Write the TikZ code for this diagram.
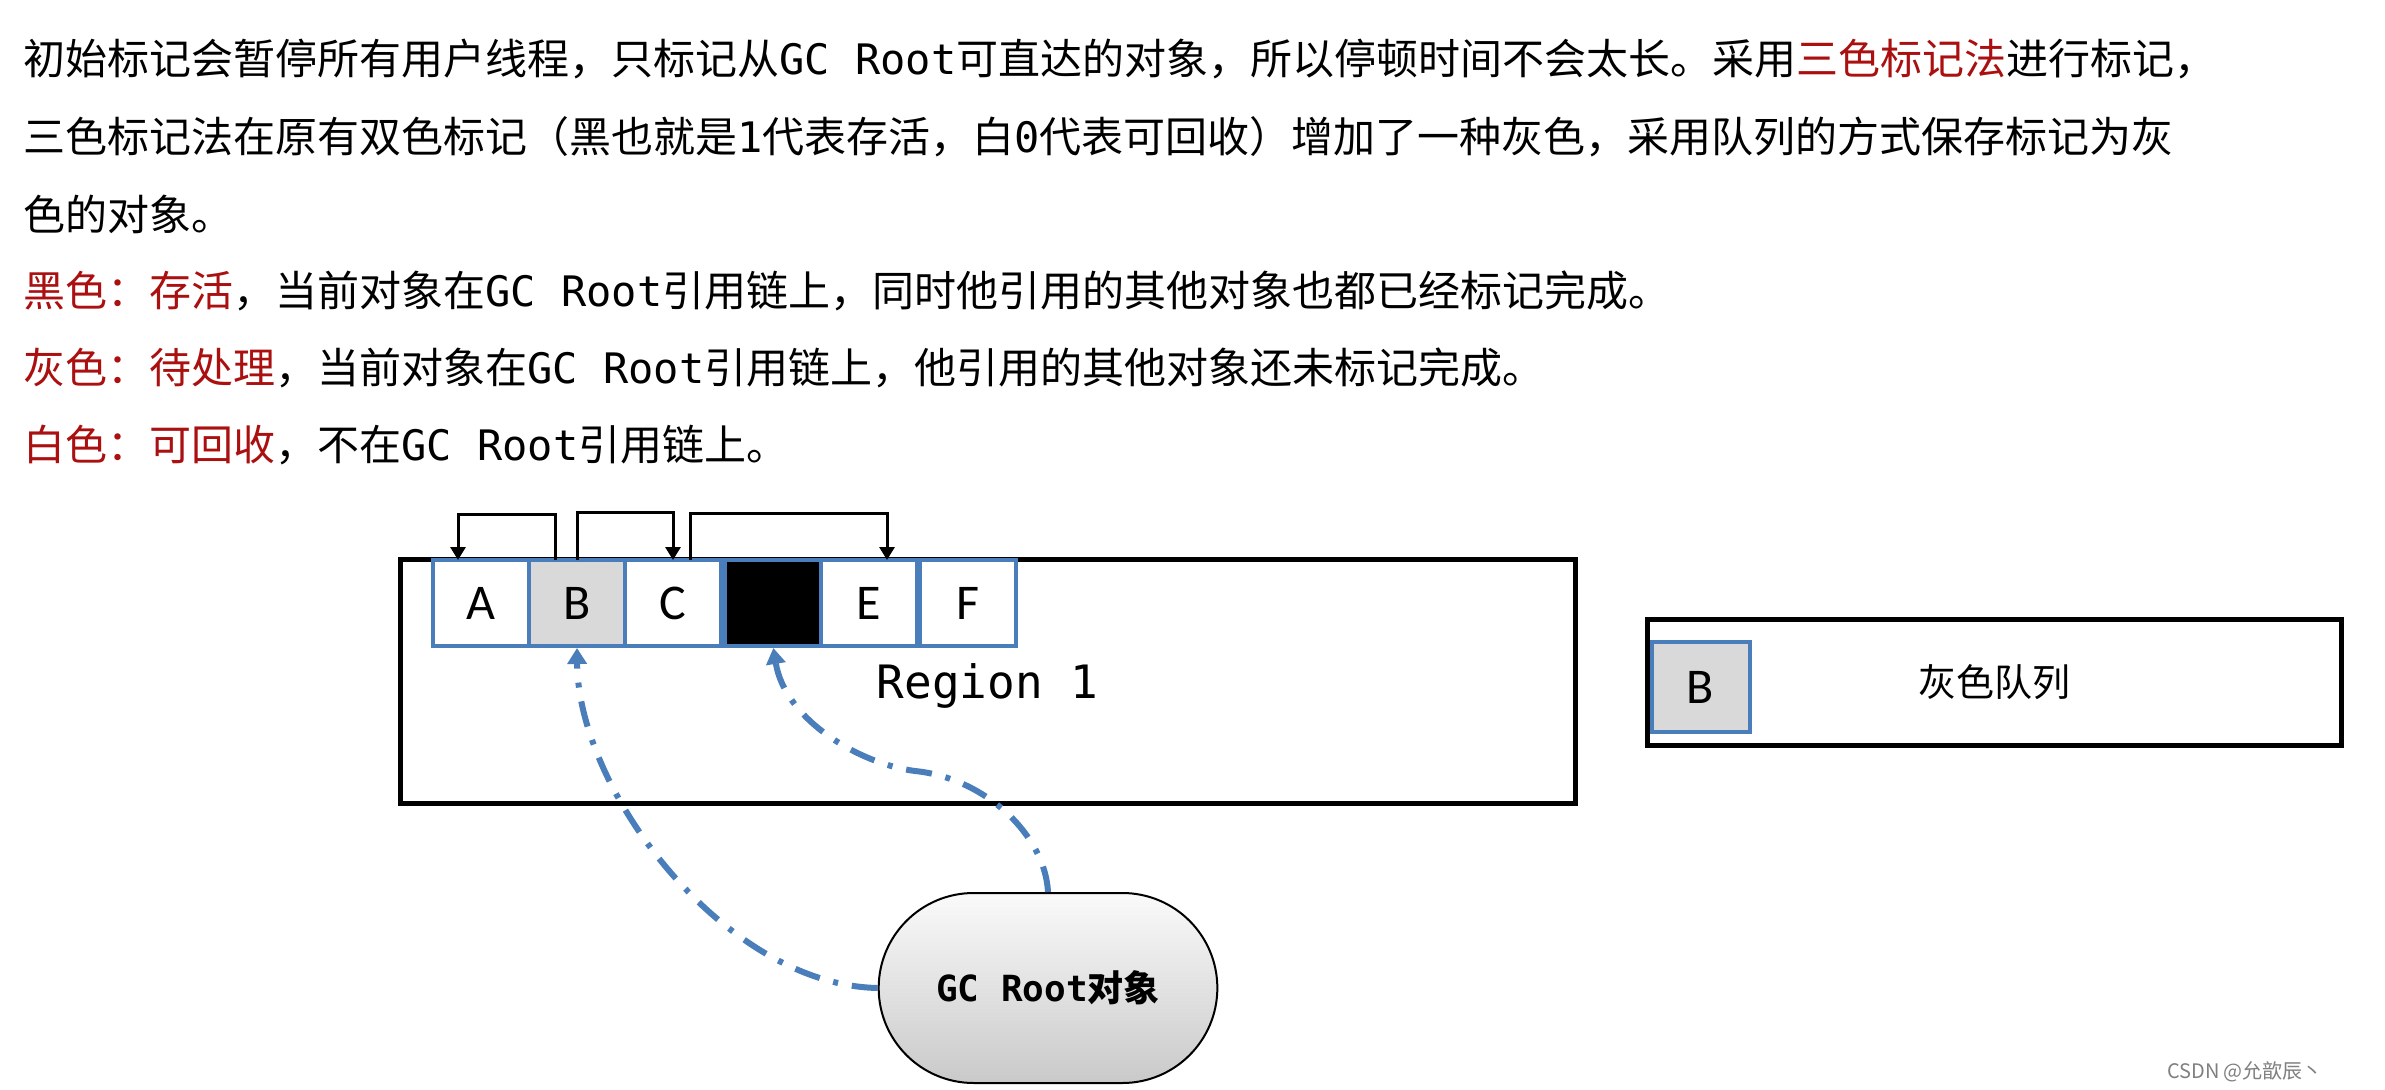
\documentclass[tikz,border=0pt]{standalone}
\usepackage{fontspec}
\setmainfont{Noto Sans CJK SC}
\newfontfamily\monofont{DejaVu Sans Mono}
\newfontfamily\cellfont{Carlito}
\usepackage{xcolor}
\usepackage{tikz}
\usetikzlibrary{positioning}
\usetikzlibrary{arrows.meta}
\usetikzlibrary{shapes.misc}

\definecolor{cellblue}{RGB}{74,126,187}
\definecolor{notered}{RGB}{170,16,16}
\definecolor{greycell}{RGB}{217,217,217}
\newcommand{\gcr}{{\monofont GC Root}}
\newcommand{\hl}[1]{\textcolor{notered}{#1}}

\begin{document}
\begin{tikzpicture}[
  x=0.5pt, y=-0.5pt,
  txt/.style={anchor=base west, inner sep=0pt, font=\fontsize{21pt}{25pt}\selectfont},
  cell/.style={draw=cellblue, line width=2pt, fill=white,
    minimum width=48pt, minimum height=43pt, inner sep=0pt, outer sep=0pt,
    font=\cellfont\fontsize{25pt}{30pt}\selectfont},
  regionbox/.style={draw, line width=2.5pt, inner sep=0pt,
    font=\monofont\fontsize{23pt}{28pt}\selectfont},
  refarrow/.style={line width=1.5pt, -{Triangle[width=7.5pt,length=6.5pt]}},
  rootarrow/.style={draw=cellblue, line width=3pt,
    dash pattern=on 13pt off 7pt on 2.5pt off 7pt,
    -{Triangle[width=9.5pt,length=8pt]}, shorten >=1pt},
  rootnode/.style={rounded rectangle, draw, line width=1pt,
    top color=gray!4, bottom color=gray!42,
    minimum width=176pt, minimum height=95pt,
    font=\bfseries\fontsize{18pt}{22pt}\selectfont},
]
  \fill[white] (0,0) rectangle (2385,1090);
  \useasboundingbox (0,0) rectangle (2385,1090);

  % text above the picture
  \node[txt] (l1) at (23,75) {初始标记会暂停所有用户线程，只标记从\gcr 可直达的对象，所以停顿时间不会太长。采用\hl{三色标记法}进行标记，};
  \node[txt] (l2) at (23,153) {三色标记法在原有双色标记（黑也就是{\monofont 1}代表存活，白{\monofont 0}代表可回收）增加了一种灰色，采用队列的方式保存标记为灰};
  \node[txt] (l3) at (23,231) {色的对象。};
  \node[txt] (l4) at (23,307) {\hl{黑色：存活}，当前对象在\gcr 引用链上，同时他引用的其他对象也都已经标记完成。};
  \node[txt] (l5) at (23,384) {\hl{灰色：待处理}，当前对象在\gcr 引用链上，他引用的其他对象还未标记完成。};
  \node[txt] (l6) at (23,460) {\hl{白色：可回收}，不在\gcr 引用链上。};

  % region with its objects
  \node[regionbox, text depth=0pt, minimum width=587.5pt, minimum height=122pt] (region) at (987.5,681.5) {Region 1};
  \node[cell] (A) at (481,603) {A};
  \node[cell, fill=greycell, right=0pt of A] (B) {B};
  \node[cell, right=0pt of B] (C) {C};
  \node[cell, fill=black, right=2pt of C] (D) {};
  \node[cell, right=0pt of D] (E) {E};
  \node[cell, right=1.5pt of E] (F) {F};

  % references between objects
  \draw[refarrow] ([xshift=-11pt]B.north) -- ++(0,-46) -| ([xshift=-11.5pt]A.north);
  \draw[refarrow] (B.north) -- ++(0,-48) -| (C.north);
  \draw[refarrow] ([xshift=8.5pt]C.north) -- ++(0,-47) -| ([xshift=9pt]E.north);

  % grey queue
  \node[regionbox, font=\fontsize{19pt}{23pt}\selectfont,
    minimum width=347pt, minimum height=63pt] (queue) at (1994,682) {灰色队列};
  \node[cell, fill=greycell, minimum width=49pt, minimum height=45pt,
    right=3.5pt of queue.west, yshift=-2.5pt] (qb) {B};

  % gc root
  \node[rootnode] (root) at (1048,988) {{\monofont GC Root}对象};
  \draw[rootarrow] (root.west) .. controls (725,985) and (578,791) .. (B.south);
  \draw[rootarrow] (root.north) .. controls (1045,835) and (985,778) .. (915,771)
    .. controls (860,764) and (785,720) .. (D.south);

  \node[text=gray, font=\fontsize{10pt}{12pt}\selectfont] (mark) at (2245,1072) {CSDN @允歆辰丶};
\end{tikzpicture}
\end{document}
